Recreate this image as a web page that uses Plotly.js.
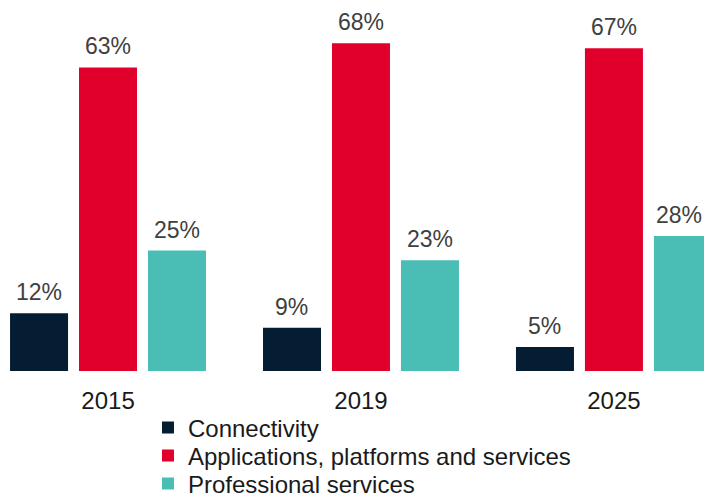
<!DOCTYPE html>
<html>
<head>
<meta charset="utf-8">
<script src="https://cdn.plot.ly/plotly-3.0.1.min.js"></script>
<style>html,body{margin:0;padding:0;background:#fff;}#chart{width:704px;height:498px;}</style>
</head>
<body>
<div id="chart"></div>
<script>
const years = ['2015', '2019', '2025'];
const seriesNames = ['Connectivity', 'Applications, platforms and services', 'Professional services'];
const connectivity = [12, 9, 5];
const applications = [63, 68, 67];
const professional = [25, 23, 28];
const colors = ['#041d33', '#e0002b', '#4abdb4'];

const FONT = 'Liberation Sans, Arial, sans-serif';
const allSeries = [connectivity, applications, professional];
const legendIds = ['legend', 'legend2', 'legend3'];
const traces = allSeries.map((vals, i) => ({
  type: 'bar',
  name: seriesNames[i],
  x: years,
  y: vals,
  legend: legendIds[i],
  marker: {color: colors[i], line: {width: 0}},
  hoverinfo: 'none'
}));

const shifts = [-69, 0, 69];
const annotations = [];
allSeries.forEach((vals, i) => {
  vals.forEach((v, j) => {
    // keep the right-most label inside the page edge
    const edgeFix = (i === 2 && j === years.length - 1) ? -4 : 0;
    annotations.push({
      x: j, y: v, xref: 'x', yref: 'y',
      text: v + '%', showarrow: false,
      xanchor: 'center', yanchor: 'bottom',
      xshift: shifts[i] + edgeFix, yshift: 6,
      font: {family: FONT, size: 23, color: '#404040'}
    });
  });
});

const legendYs = [-0.1536, -0.2291, -0.3046];
function legendCfg(y) {
  return {
    orientation: 'v',
    x: 0.2102, xanchor: 'left',
    y: y, yanchor: 'middle',
    font: {family: FONT, size: 24, color: '#1a1a1a'},
    bgcolor: 'rgba(0,0,0,0)'
  };
}

const layout = {
  width: 704, height: 498,
  margin: {l: 0, r: 0, t: 0, b: 127, autoexpand: false},
  paper_bgcolor: '#ffffff', plot_bgcolor: '#ffffff',
  barmode: 'group',
  bargap: 0.182,
  bargroupgap: 0.159,
  showlegend: true,
  legend: legendCfg(legendYs[0]),
  legend2: legendCfg(legendYs[1]),
  legend3: legendCfg(legendYs[2]),
  xaxis: {
    type: 'category',
    range: [-0.427, 2.356],
    showline: false, showgrid: false, zeroline: false,
    ticks: '',
    ticklabelstandoff: 13,
    tickfont: {family: FONT, size: 24, color: '#1a1a1a'},
    fixedrange: true
  },
  yaxis: {
    range: [0, 77],
    showticklabels: false,
    showline: false,
    showgrid: false, zeroline: false,
    ticks: '',
    fixedrange: true
  },
  annotations: annotations
};

Plotly.newPlot('chart', traces, layout, {displayModeBar: false});
</script>
</body>
</html>
